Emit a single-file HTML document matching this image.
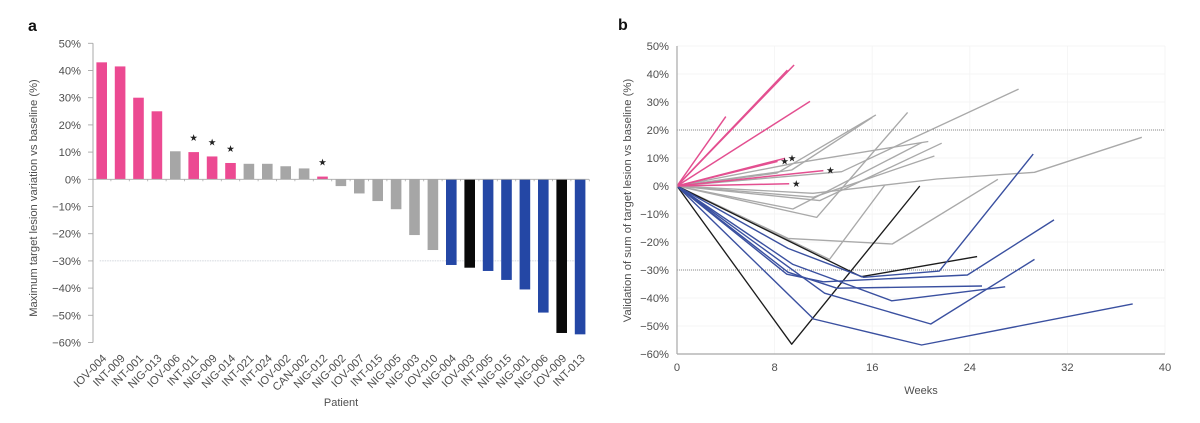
<!DOCTYPE html>
<html lang="en">
<head>
<meta charset="utf-8">
<title>Target lesion response charts</title>
<style>
  html, body { margin: 0; padding: 0; background: #fff; }
  body { width: 1200px; height: 423px; overflow: hidden; }
  svg { display: block; filter: blur(0.3px); }
  text { font-family: "Liberation Sans", Arial, sans-serif; fill: #4f4f4f; }
</style>
</head>
<body>
<svg id="fig" xmlns="http://www.w3.org/2000/svg" width="1200" height="423" viewBox="0 0 1200 423"></svg>
<script>
/* ---------- Panel a data ---------- */
const patients = ['IOV-004','INT-009','INT-001','NIG-013','IOV-006','INT-011','NIG-009','NIG-014','INT-021','INT-024','IOV-002','CAN-002','NIG-012','NIG-002','IOV-007','INT-015','NIG-005','NIG-003','IOV-010','NIG-004','IOV-003','INT-005','NIG-015','NIG-001','NIG-006','IOV-009','INT-013'];
const maxVariation = [43,41.5,30,25,10.3,10,8.4,6,5.7,5.7,4.8,4,1,-2.5,-5.2,-8,-11,-20.5,-26,-31.5,-32.5,-33.7,-37,-40.5,-49,-56.5,-57];
const barGroups = ['pink','pink','pink','pink','gray','pink','pink','pink','gray','gray','gray','gray','pink','gray','gray','gray','gray','gray','gray','blue','black','blue','blue','blue','blue','black','blue'];
const starredPatients = ['INT-011','NIG-009','NIG-014','NIG-012'];
const percentTicks = [50,40,30,20,10,0,-10,-20,-30,-40,-50,-60];
const weekTicks = [0,8,16,24,32,40];
const referenceLinesA = [-30];
const referenceLinesB = [20,-30];

/* ---------- Panel b data: [week, percent] ---------- */
const pinkLines = [
  [[0,0],[4.0,24.8]],
  [[0,0],[9.6,43.2]],
  [[0,0],[9.05,41.4]],
  [[0,0],[10.9,30.2]],
  [[0,0],[8.85,9.9]],
  [[0,0],[8.25,8.8]],
  [[0,0],[12.0,5.5]],
  [[0,0],[9.2,0.8]]
];
const starredPinkLines = [4,5,6,7];
const grayLines = [
  [[0,0],[8.2,4.6],[16.3,25.4]],
  [[0,0],[9.4,5.7],[16.0,24.5]],
  [[0,0],[13.5,5.1],[19.3,17],[28,34.6]],
  [[0,0],[9.5,-8.2],[20.1,15.6]],
  [[0,0],[9.5,8],[20.6,15.9]],
  [[0,0],[11.7,-5.2],[21.7,15.3]],
  [[0,0],[11.2,-4],[21.1,10.7]],
  [[0,0],[11.45,-11.2],[18.9,26.3]],
  [[0,0],[11.15,-2.6],[21.3,2.5],[29.3,4.9],[38.1,17.4]],
  [[0,0],[9.1,-18.7],[17.65,-20.7],[26.3,2.4]],
  [[0,0],[12.5,-26.2],[17.05,0.4]]
];
const blueLines = [
  [[0,0],[9.1,-22.3],[15.3,-32.6],[21.5,-30.4],[29.2,11.4]],
  [[0,0],[9,-31.5],[12,-34.2],[23.8,-31.8],[30.9,-12.1]],
  [[0,0],[9.1,-30.8],[13.1,-36.5],[25,-35.7]],
  [[0,0],[9.5,-28],[17.6,-41],[26.9,-36]],
  [[0,0],[12.1,-38.3],[20.8,-49.3],[29.3,-26.2]],
  [[0,0],[11.2,-47.5],[20.05,-56.8],[37.35,-42.1]]
];
const blackLines = [
  [[0,0],[9.4,-56.5],[19.9,0]],
  [[0,0],[15.1,-32.4],[24.6,-25.2]]
];

/* ---------- Styles ---------- */
const groupColors = { pink: '#ec4a92', gray: '#a6a6a6', blue: '#2447a5', black: '#0a0a0a' };
const lineColors = { pink: '#e34f90', gray: '#a9a9a9', blue: '#3a50a0', black: '#1c1c1c' };

/* ---------- Axis functions ---------- */
const yA = v => 179.3 - v * 2.72;
const xA = i => 101.7 + i * 18.4;
const yB = v => 186 - v * 2.8;
const xB = w => 677 + w * 12.2;

const NS = 'http://www.w3.org/2000/svg';
const fig = document.getElementById('fig');
function mk(tag, attrs, parent, txt) {
  const el = document.createElementNS(NS, tag);
  for (const k in attrs) el.setAttribute(k, attrs[k]);
  if (txt !== undefined) el.textContent = txt;
  (parent || fig).appendChild(el);
  return el;
}
const pct = v => (v < 0 ? '\u2212' + (-v) : v) + '%';

/* Panel labels */
let el = mk('text', { x: 28, y: 31, 'font-size': 16, 'font-weight': 'bold', style: 'fill:#111' }, fig, 'a');


el = mk('text', { x: 618, y: 30, 'font-size': 16, 'font-weight': 'bold', style: 'fill:#111' }, fig, 'b');



/* ---------- Panel a ---------- */
const gA = mk('g', {});



referenceLinesA.forEach(v => {
  const l = mk('line', { x1: xA(0) - 2, x2: 585, y1: yA(v), y2: yA(v), stroke: '#c4c9d2', 'stroke-width': 0.8, 'stroke-dasharray': '1.5 1' }, gA);
  
  
});

patients.forEach((p, i) => {
  const v = maxVariation[i];
  const top = Math.min(yA(v), yA(0));
  const h = Math.abs(yA(v) - yA(0));
  const b = mk('rect', { x: xA(i) - 5.3, y: top, width: 10.6, height: h, fill: groupColors[barGroups[i]] }, gA);
  
  

  const cx = xA(i), cy = 349;
  const t = mk('text', { x: cx + 5.5, y: cy + 10, 'font-size': 11.2, 'text-anchor': 'end', transform: 'rotate(-45 ' + (cx + 5.5) + ' ' + (cy + 10) + ')' }, gA, p);
  
  

  if (starredPatients.includes(p)) {
    const s = mk('text', { x: cx, y: yA(v) - 11, 'font-size': 9.5, 'text-anchor': 'middle', style: 'fill:#222;font-family:\'DejaVu Sans\',sans-serif' }, gA, '\u2605');
    
    
  }
  const tk = mk('line', { x1: cx + 9.2, x2: cx + 9.2, y1: yA(0), y2: yA(0) + 2, stroke: '#aaa', 'stroke-width': 0.8 }, gA);
  
  
});

el = mk('line', { x1: 93, x2: 589, y1: yA(0), y2: yA(0), stroke: '#a8a8a8', 'stroke-width': 0.9 }, gA);


el = mk('line', { x1: 93, x2: 93, y1: yA(50), y2: yA(-60), stroke: '#a8a8a8', 'stroke-width': 1 }, gA);



percentTicks.forEach(v => {
  const tk = mk('line', { x1: 88, x2: 93, y1: yA(v), y2: yA(v), stroke: '#a8a8a8', 'stroke-width': 0.9 }, gA);
  
  
  const t = mk('text', { x: 81, y: yA(v) + 4, 'font-size': 11.2, 'text-anchor': 'end' }, gA, pct(v));
  
  
});

el = mk('text', { x: 37, y: 198, 'font-size': 11.2, 'text-anchor': 'middle', transform: 'rotate(-90 37 198)' }, gA, 'Maximum target lesion variation vs baseline (%)');


el = mk('text', { x: 341, y: 406, 'font-size': 11, 'text-anchor': 'middle' }, gA, 'Patient');



/* ---------- Panel b ---------- */
const gB = mk('g', {});



percentTicks.forEach(v => {
  const g = mk('line', { x1: xB(0), x2: xB(40), y1: yB(v), y2: yB(v), stroke: '#f3f3f3', 'stroke-width': 0.8 }, gB);
  
  
  const t = mk('text', { x: 669, y: yB(v) + 4, 'font-size': 11.2, 'text-anchor': 'end' }, gB, pct(v));
  
  
});
weekTicks.forEach(w => {
  const g = mk('line', { x1: xB(w), x2: xB(w), y1: yB(50), y2: yB(-60), stroke: '#f3f3f3', 'stroke-width': 0.8 }, gB);
  
  
  const t = mk('text', { x: xB(w), y: 371, 'font-size': 11.2, 'text-anchor': 'middle' }, gB, String(w));
  
  
});
referenceLinesB.forEach(v => {
  const l = mk('line', { x1: xB(0), x2: xB(40), y1: yB(v), y2: yB(v), stroke: '#8a8a8a', 'stroke-width': 1, 'stroke-dasharray': '1 1' }, gB);
  
  
});

const linePath = pts => pts.map(p => xB(p[0]).toFixed(1) + ',' + yB(p[1]).toFixed(1)).join(' ');
function drawLines(series, key, width) {
  series.forEach(pts => {
    const l = mk('polyline', { points: linePath(pts), fill: 'none', stroke: lineColors[key], 'stroke-width': width, 'stroke-linejoin': 'round' }, gB);
    
    
  });
}
drawLines(grayLines, 'gray', 1.35);
drawLines(blackLines, 'black', 1.35);
drawLines(blueLines, 'blue', 1.4);
drawLines(pinkLines, 'pink', 1.5);

starredPinkLines.forEach(i => {
  const end = pinkLines[i][pinkLines[i].length - 1];
  const s = mk('text', { x: xB(end[0]) + 7, y: yB(end[1]) + 3, 'font-size': 9.5, 'text-anchor': 'middle', style: 'fill:#222;font-family:\'DejaVu Sans\',sans-serif' }, gB, '\u2605');
  
  
});

el = mk('line', { x1: xB(0), x2: xB(0), y1: yB(50), y2: yB(-60), stroke: '#a8a8a8', 'stroke-width': 1.2 }, gB);


el = mk('line', { x1: xB(0), x2: xB(40), y1: yB(-60), y2: yB(-60), stroke: '#a8a8a8', 'stroke-width': 1.2 }, gB);



el = mk('text', { x: 631, y: 200.5, 'font-size': 11.3, 'text-anchor': 'middle', transform: 'rotate(-90 631 200.5)' }, gB, 'Validation of sum of target lesion vs baseline (%)');


el = mk('text', { x: 921, y: 394, 'font-size': 11, 'text-anchor': 'middle' }, gB, 'Weeks');


</script>
</body>
</html>
